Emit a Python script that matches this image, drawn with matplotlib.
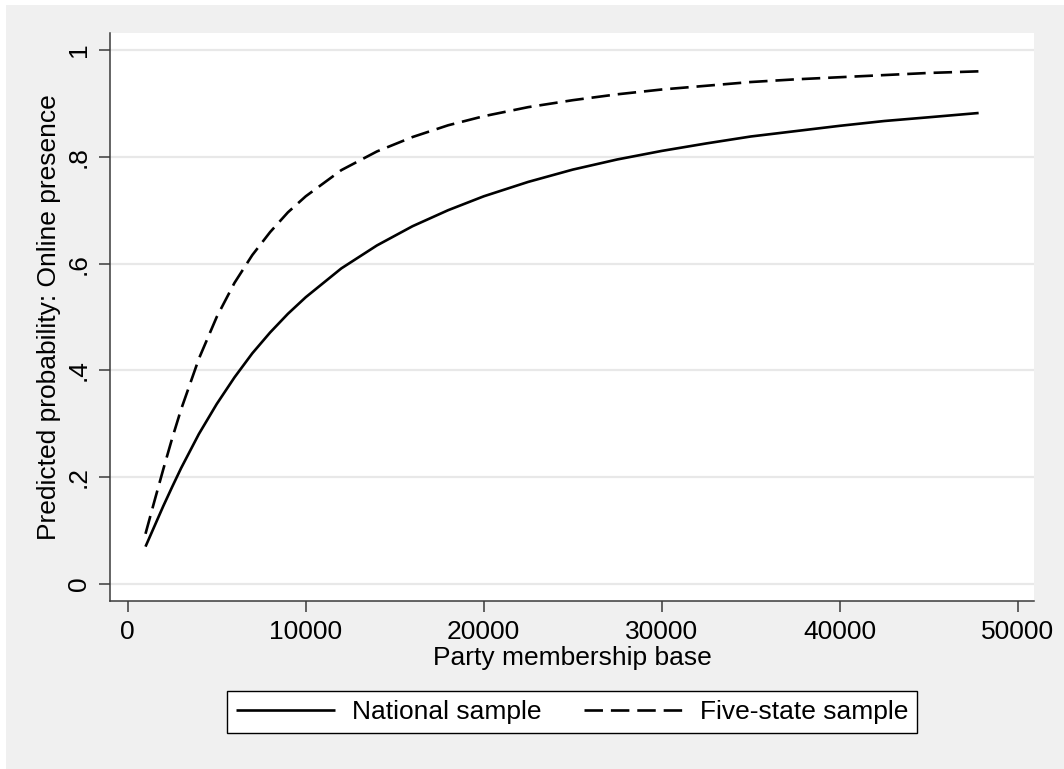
import matplotlib
matplotlib.use("Agg")
import matplotlib.pyplot as plt
from matplotlib.patches import Rectangle

plt.rcParams['font.family'] = ['Liberation Sans', 'DejaVu Sans']
plt.rcParams['font.size'] = 19

# predicted probabilities
membership = [1000, 1500, 2000, 2500, 3000, 4000, 5000, 6000, 7000, 8000, 9000,
              10000, 12000, 14000, 16000, 18000, 20000, 22500, 25000, 27500,
              30000, 32500, 35000, 37500, 40000, 42500, 45000, 47800]
national = [0.070, 0.108, 0.146, 0.182, 0.217, 0.281, 0.337, 0.387, 0.432, 0.471,
            0.506, 0.537, 0.591, 0.634, 0.670, 0.700, 0.726, 0.753, 0.776, 0.795,
            0.811, 0.825, 0.838, 0.848, 0.858, 0.867, 0.874, 0.882]
five_state = [0.094, 0.155, 0.215, 0.273, 0.327, 0.422, 0.500, 0.564, 0.616, 0.659,
              0.696, 0.726, 0.775, 0.810, 0.837, 0.859, 0.876, 0.893, 0.906, 0.917,
              0.926, 0.933, 0.940, 0.945, 0.949, 0.953, 0.957, 0.960]

x_ticks = [0, 10000, 20000, 30000, 40000, 50000]
y_ticks = [0, 0.2, 0.4, 0.6, 0.8, 1.0]
y_tick_labels = ['0', '.2', '.4', '.6', '.8', '1']

W, H = 1064, 769
fig = plt.figure(figsize=(W / 100, H / 100), dpi=100)
fig.patch.set_facecolor('white')
fig.patches.append(Rectangle((6 / W, 0), 1 - 6 / W, 1 - 5 / H, transform=fig.transFigure,
                             facecolor='#f0f0f0', edgecolor='none', zorder=-10))

ax = fig.add_axes([110 / W, 1 - 601 / H, (1034 - 110) / W, (601 - 33) / H])
ax.set_facecolor('white')

ax.plot(membership, national, color='black', lw=1.9, label='National sample',
        solid_capstyle='butt', solid_joinstyle='round')
ax.plot(membership, five_state, color='black', lw=1.9, ls=(0, (7, 3)),
        label='Five-state sample', dash_capstyle='butt')

ax.set_xlim(-994, 50910)
ax.set_ylim(-0.0318, 1.0318)
ax.set_xticks(x_ticks)
ax.set_xticklabels([str(t) for t in x_ticks])
ax.set_yticks(y_ticks)
ax.set_yticklabels(y_tick_labels, rotation=90, va='center')

ax.grid(axis='y', color='#e8e8e8', lw=1.6)
ax.set_axisbelow(True)
for side in ['top', 'right']:
    ax.spines[side].set_visible(False)
for side in ['left', 'bottom']:
    ax.spines[side].set_color('#3a3a3a')
    ax.spines[side].set_linewidth(1.1)
ax.tick_params(length=8, width=1.1, color='#3a3a3a', pad=6)

ax.set_xlabel('Party membership base', labelpad=1)
ax.set_ylabel('Predicted probability: Online presence', labelpad=4)

leg = ax.legend(loc='center', bbox_to_anchor=(572 / W, 1 - 712 / H),
                bbox_transform=fig.transFigure, ncol=2, frameon=True, fancybox=False,
                handlelength=3.75, handletextpad=0.65, columnspacing=1.6,
                borderpad=0.35, borderaxespad=0)
leg.get_frame().set_edgecolor('black')
leg.get_frame().set_linewidth(1.0)
leg.get_frame().set_facecolor('white')
leg.get_frame().set_alpha(1)

fig.savefig('out.png', dpi=100, facecolor=fig.get_facecolor())
